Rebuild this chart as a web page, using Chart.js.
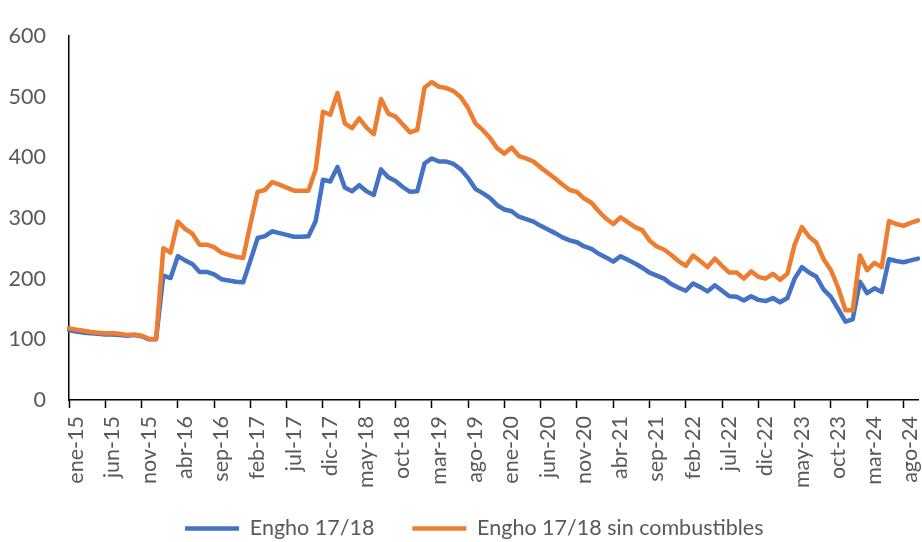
<!DOCTYPE html>
<html>
<head>
<meta charset="utf-8">
<script src="https://cdn.jsdelivr.net/npm/chart.js@4.4.1/dist/chart.umd.min.js"></script>
<style>
  html, body { margin: 0; padding: 0; background: #ffffff; }
  #wrap { width: 922px; height: 542px; }
</style>
</head>
<body>
<div id="wrap"><canvas id="c" width="922" height="542"></canvas></div>
<script>
// ---- data ----
const monthNames = ["ene","feb","mar","abr","may","jun","jul","ago","sep","oct","nov","dic"];
const years = ["15","16","17","18","19","20","21","22","23","24"];
const lastMonthIndex2024 = 9; // oct-24
const categories = [];
years.forEach((y, yi) => {
  monthNames.forEach((m, mi) => {
    if (yi < years.length - 1 || mi <= lastMonthIndex2024) categories.push(m + "-" + y);
  });
});

const seriesNames = ["Engho 17/18", "Engho 17/18 sin combustibles"];

const engho = [
  115,113,111,110,109,108,108,107,106,107,105,100,
  100,205,201,237,230,224,211,211,207,199,197,195,
  194,230,267,270,278,275,272,269,269,270,295,363,
  360,384,350,344,354,344,338,380,367,361,351,343,
  344,390,398,393,393,389,380,366,348,341,333,321,
  314,311,302,298,294,287,281,275,268,263,260,253,
  249,241,235,228,237,231,225,218,210,205,200,191,
  185,180,192,186,179,189,180,171,170,164,171,165,
  163,168,161,168,200,219,210,203,182,170,150,129,
  133,195,176,184,178,232,229,227,230,233
];

const enghoSinComb = [
  118,116,114,112,111,110,110,109,107,108,106,101,
  100,250,243,294,282,274,256,256,252,243,239,236,
  234,290,343,346,359,355,350,345,345,345,380,475,
  470,506,456,448,464,449,438,496,472,467,454,441,
  445,515,524,516,514,509,499,481,456,445,432,415,
  406,416,402,398,393,383,374,365,355,346,343,332,
  325,311,299,290,301,293,285,280,263,253,248,239,
  229,221,238,229,219,233,221,210,210,200,212,203,
  200,208,198,208,256,285,269,259,232,214,185,148,
  148,238,214,226,219,295,290,287,292,296
];

const yTicks = [0, 100, 200, 300, 400, 500, 600];
const labelEvery = 5;

// ---- chart ----
const FONT = "Lato";
const TEXT = "#595959";
const noLabelClip = function () { return undefined; };

new Chart(document.getElementById("c"), {
  type: "line",
  data: {
    labels: categories,
    datasets: [
      {
        label: seriesNames[0],
        data: engho,
        borderColor: "#4472C4",
        backgroundColor: "#4472C4",
        borderWidth: 4.5,
        pointRadius: 0,
        pointHoverRadius: 0,
        tension: 0,
        borderJoinStyle: "round",
        borderCapStyle: "round",
        pointStyle: "line",
        order: 1
      },
      {
        label: seriesNames[1],
        data: enghoSinComb,
        borderColor: "#ED7D31",
        backgroundColor: "#ED7D31",
        borderWidth: 4.5,
        pointRadius: 0,
        pointHoverRadius: 0,
        tension: 0,
        borderJoinStyle: "round",
        borderCapStyle: "round",
        pointStyle: "line",
        order: 0
      }
    ]
  },
  options: {
    responsive: false,
    animation: false,
    devicePixelRatio: 1,
    layout: { padding: { left: 30.5, right: 4, top: 21, bottom: -7.25 } },
    plugins: {
      tooltip: { enabled: false },
      legend: {
        position: "bottom",
        labels: {
          usePointStyle: true,
          pointStyleWidth: 54,
          padding: 38,
          color: TEXT,
          font: { family: FONT, size: 21.5 },
          sort: (a, b) => a.datasetIndex - b.datasetIndex
        }
      }
    },
    scales: {
      x: {
        type: "category",
        offset: false,
        afterFit: (s) => {
          s.height = 79.75; s.paddingLeft = 0; s.paddingRight = 0;
          s._computeLabelArea = noLabelClip;
        },
        border: { display: true, color: "#000000", width: 1.5 },
        grid: {
          display: true,
          drawOnChartArea: false,
          drawTicks: true,
          tickLength: 8,
          tickWidth: 1.5,
          tickColor: (ctx) => (ctx.index % labelEvery === 0 ? "#000000" : "rgba(0,0,0,0)")
        },
        ticks: {
          autoSkip: false,
          minRotation: 90,
          maxRotation: 90,
          padding: 8,
          labelOffset: 7,
          color: TEXT,
          font: { family: FONT, size: 21.5 },
          callback: function (value, index) {
            return index % labelEvery === 0 ? categories[index] : "";
          }
        }
      },
      y: {
        min: yTicks[0],
        max: yTicks[yTicks.length - 1],
        afterFit: (s) => { s.width = 38.5; s._computeLabelArea = noLabelClip; },
        afterBuildTicks: (s) => { s.ticks = yTicks.map(v => ({ value: v })); },
        border: { display: true, color: "#000000", width: 1.5 },
        grid: { display: false, drawTicks: false },
        ticks: {
          padding: 23,
          color: TEXT,
          font: { family: FONT, size: 21.5 }
        }
      }
    }
  }
});
</script>
</body>
</html>
